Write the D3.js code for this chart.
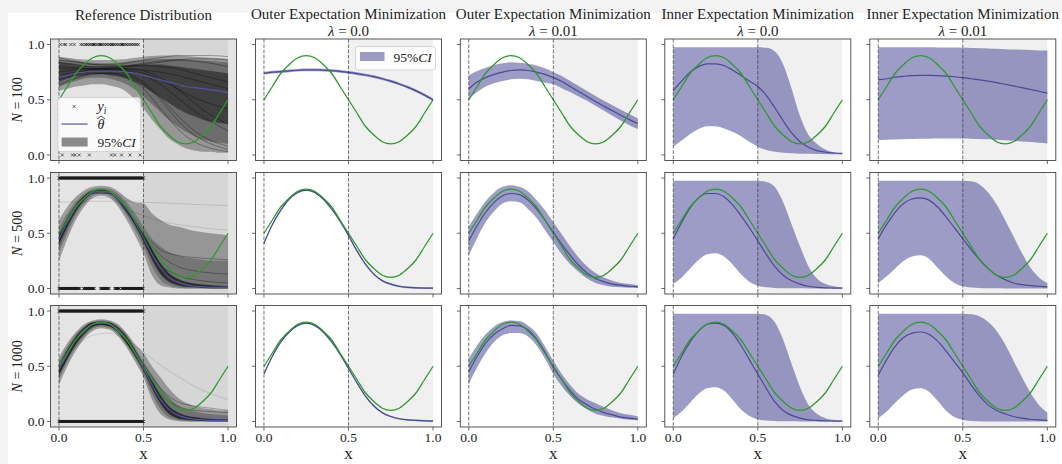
<!DOCTYPE html>
<html><head><meta charset="utf-8">
<script src="https://cdn.jsdelivr.net/npm/d3@7"></script>
<style>
html,body{margin:0;padding:0;background:#f3f3f3;}
svg{display:block;}
text{font-family:"Liberation Serif","Times New Roman",serif;fill:#222;}
</style></head><body>
<svg id="chart" width="1062" height="464"></svg>
<script>
// ---------------- DATA ----------------
const xGrid = [0,0.05,0.1,0.15,0.2,0.25,0.3,0.35,0.4,0.45,0.5,0.55,0.6,0.65,0.7,0.75,0.8,0.85,0.9,0.95,1];
const xCoarse = [0,0.1,0.2,0.3,0.4,0.5,0.6,0.7,0.8,0.9,1];
const sampleSizes = [100, 500, 1000];
const colTitles = [["Reference Distribution"],
  ["Outer Expectation Minimization","λ = 0.0"],
  ["Outer Expectation Minimization","λ = 0.01"],
  ["Inner Expectation Minimization","λ = 0.0"],
  ["Inner Expectation Minimization","λ = 0.01"]];
const xTicks = [0, 0.5, 1.0];
const yTicks = [0, 0.5, 1.0];
const xTickLabels = ["0.0","0.5","1.0"];
const yTickLabels = ["0.0","0.5","1.0"];

// true success probability (green)
const trueTheta = [0.5,0.62,0.74,0.82,0.88,0.9,0.88,0.82,0.74,0.62,0.5,0.38,0.26,0.18,0.12,0.1,0.12,0.18,0.26,0.38,0.5];

// observed y_i positions (x of the ones / zeros); dense rows given as spans
const obsOnes100 = [0.01,0.03,0.04,0.07,0.09,0.13,0.14,0.155,0.16,0.17,0.18,0.19,0.2,0.205,0.21,0.22,0.23,0.24,0.245,0.25,0.26,0.27,0.28,0.29,0.3,0.31,0.315,0.32,0.33,0.34,0.35,0.36,0.37,0.375,0.38,0.39,0.4,0.41,0.42,0.43,0.44,0.45,0.46,0.47];
const obsZeros100 = [0.02,0.08,0.095,0.12,0.18,0.31,0.33,0.37,0.42,0.48];
const obsOnesSpans = {500:[[0,0.5]], 1000:[[0,0.5]]};
const obsZerosSpans = {500:[[0,0.125],[0.145,0.21],[0.245,0.3],[0.33,0.36],[0.37,0.5]], 1000:[[0,0.5]]};

// reference distribution: envelopes of the sampled curves
const refLightLo = {
 100:[0.58,0.6,0.62,0.63,0.64,0.64,0.63,0.61,0.57,0.5,0.42,0.32,0.23,0.15,0.1,0.06,0.04,0.03,0.03,0.02,0.02],
 500:[0.25,0.45,0.62,0.74,0.82,0.84,0.82,0.74,0.62,0.48,0.32,0.12,0.03,0.01,0,0,0,0,0,0,0],
 1000:[0.33,0.5,0.64,0.75,0.82,0.845,0.83,0.77,0.67,0.54,0.4,0.2,0.07,0.02,0.005,0,0,0,0,0,0]};
const refLightHi = {
 100:[0.89,0.88,0.87,0.865,0.86,0.86,0.86,0.865,0.87,0.88,0.89,0.895,0.9,0.9,0.9,0.895,0.89,0.885,0.88,0.875,0.87],
 500:[0.62,0.74,0.83,0.89,0.92,0.93,0.92,0.88,0.82,0.78,0.77,0.68,0.62,0.58,0.56,0.54,0.52,0.51,0.5,0.49,0.48],
 1000:[0.58,0.71,0.81,0.88,0.915,0.925,0.915,0.88,0.8,0.7,0.62,0.5,0.4,0.3,0.22,0.17,0.14,0.12,0.11,0.1,0.1]};
const refMidLo = {
 100:[0.62,0.65,0.67,0.69,0.7,0.7,0.69,0.67,0.64,0.59,0.53,0.46,0.39,0.32,0.26,0.21,0.17,0.14,0.12,0.11,0.1],
 500:[0.33,0.5,0.66,0.77,0.84,0.86,0.84,0.77,0.66,0.53,0.38,0.2,0.08,0.03,0.01,0,0,0,0,0,0],
 1000:[0.38,0.54,0.67,0.77,0.84,0.86,0.845,0.79,0.69,0.57,0.43,0.25,0.11,0.04,0.015,0.005,0,0,0,0,0]};
const refMidHi = {
 100:[0.87,0.86,0.85,0.84,0.835,0.83,0.83,0.835,0.845,0.855,0.86,0.865,0.87,0.87,0.87,0.865,0.86,0.855,0.85,0.845,0.84],
 500:[0.55,0.68,0.79,0.86,0.9,0.91,0.9,0.86,0.78,0.68,0.56,0.45,0.38,0.33,0.3,0.28,0.27,0.26,0.25,0.25,0.25],
 1000:[0.54,0.68,0.79,0.865,0.905,0.915,0.905,0.865,0.79,0.67,0.54,0.42,0.31,0.22,0.15,0.11,0.09,0.075,0.065,0.06,0.055]};
const refCoreLo = {
 100:[0.66,0.69,0.71,0.72,0.73,0.73,0.72,0.71,0.69,0.66,0.62,0.57,0.52,0.47,0.42,0.38,0.35,0.32,0.3,0.29,0.28],
 500:[0.4,0.56,0.7,0.8,0.86,0.875,0.86,0.8,0.7,0.57,0.42,0.26,0.13,0.06,0.03,0.015,0.01,0.005,0,0,0],
 1000:[0.42,0.57,0.7,0.79,0.855,0.875,0.86,0.81,0.71,0.59,0.46,0.3,0.16,0.07,0.03,0.015,0.008,0.005,0,0,0]};
const refCoreHi = {
 100:[0.84,0.83,0.82,0.81,0.8,0.8,0.8,0.8,0.81,0.82,0.82,0.82,0.82,0.81,0.8,0.79,0.78,0.77,0.76,0.75,0.74],
 500:[0.5,0.64,0.76,0.84,0.885,0.895,0.88,0.83,0.74,0.63,0.5,0.36,0.23,0.14,0.09,0.06,0.045,0.035,0.03,0.025,0.02],
 1000:[0.51,0.65,0.77,0.85,0.895,0.905,0.895,0.85,0.77,0.65,0.51,0.37,0.24,0.14,0.085,0.055,0.04,0.03,0.025,0.02,0.02]};
const refMean = {
 100:[0.7,0.72,0.74,0.75,0.76,0.76,0.76,0.76,0.75,0.74,0.72,0.7,0.68,0.66,0.64,0.62,0.61,0.6,0.59,0.58,0.565],
 500:[0.45,0.6,0.73,0.82,0.87,0.88,0.87,0.81,0.72,0.6,0.46,0.31,0.19,0.1,0.06,0.035,0.02,0.015,0.01,0.01,0.01],
 1000:[0.47,0.61,0.74,0.83,0.88,0.89,0.88,0.83,0.74,0.62,0.48,0.33,0.2,0.11,0.06,0.035,0.02,0.015,0.01,0.01,0.01]};
// a few individual sampled curves (on xCoarse)
const refSamples = {
 100:[[0.86,0.84,0.82,0.82,0.83,0.86,0.88,0.9,0.9,0.9,0.89],
      [0.8,0.79,0.78,0.78,0.77,0.74,0.68,0.6,0.52,0.46,0.42],
      [0.72,0.75,0.77,0.77,0.74,0.66,0.52,0.36,0.22,0.13,0.08],
      [0.68,0.73,0.76,0.77,0.76,0.72,0.64,0.52,0.4,0.3,0.22],
      [0.84,0.82,0.8,0.8,0.8,0.81,0.8,0.78,0.74,0.7,0.66],
      [0.75,0.77,0.78,0.78,0.78,0.77,0.75,0.72,0.68,0.64,0.6],
      [0.64,0.7,0.74,0.74,0.7,0.6,0.42,0.24,0.12,0.06,0.03],
      [0.78,0.78,0.78,0.79,0.8,0.82,0.84,0.86,0.87,0.87,0.86],
      [0.7,0.74,0.77,0.78,0.78,0.76,0.7,0.6,0.47,0.36,0.28],
      [0.88,0.85,0.82,0.81,0.81,0.83,0.85,0.86,0.85,0.83,0.8],
      [0.62,0.69,0.73,0.74,0.72,0.64,0.5,0.32,0.18,0.1,0.05]],
 500:[[0.42,0.72,0.87,0.86,0.7,0.5,0.35,0.3,0.28,0.27,0.26],
      [0.45,0.73,0.88,0.87,0.7,0.47,0.22,0.12,0.08,0.06,0.05],
      [0.38,0.7,0.86,0.86,0.69,0.48,0.3,0.2,0.16,0.14,0.13]],
 1000:[[0.45,0.73,0.89,0.87,0.72,0.5,0.25,0.14,0.1,0.09,0.08],
       [0.42,0.71,0.88,0.87,0.71,0.52,0.3,0.18,0.14,0.12,0.1]]};
const refFaint = {
 100:[],
 500:[[0.78,0.785,0.79,0.79,0.79,0.78,0.775,0.77,0.76,0.755,0.75],
      [0.6,0.72,0.82,0.82,0.72,0.66,0.61,0.58,0.56,0.54,0.53]],
 1000:[[0.5,0.68,0.78,0.8,0.74,0.63,0.51,0.41,0.32,0.25,0.2]]};

// Outer expectation minimization, lambda = 0.0
const outer0Mean = {
 100:[0.74,0.75,0.755,0.762,0.767,0.77,0.77,0.768,0.764,0.757,0.748,0.737,0.724,0.709,0.69,0.668,0.643,0.614,0.58,0.542,0.5],
 500:[0.41,0.58,0.71,0.81,0.87,0.89,0.87,0.81,0.72,0.61,0.48,0.34,0.22,0.13,0.07,0.04,0.02,0.01,0.005,0.004,0.003],
 1000:[0.43,0.59,0.72,0.81,0.87,0.89,0.87,0.81,0.72,0.61,0.48,0.35,0.23,0.14,0.08,0.045,0.025,0.015,0.01,0.006,0.004]};
const outer0HalfWidth = {100:0.012, 500:0.008, 1000:0.007};

// Outer expectation minimization, lambda = 0.01
const outer01Mean = {
 100:[0.6,0.66,0.7,0.73,0.75,0.765,0.77,0.765,0.75,0.73,0.7,0.665,0.62,0.575,0.53,0.485,0.44,0.4,0.36,0.32,0.285],
 500:[0.43,0.57,0.69,0.78,0.84,0.86,0.85,0.8,0.72,0.62,0.51,0.4,0.3,0.21,0.14,0.09,0.06,0.04,0.03,0.02,0.015],
 1000:[0.45,0.59,0.71,0.79,0.84,0.87,0.865,0.83,0.75,0.63,0.49,0.38,0.28,0.2,0.15,0.11,0.08,0.06,0.04,0.03,0.02]};
const outer01Upper = {
 100:[0.72,0.76,0.79,0.815,0.83,0.84,0.835,0.825,0.81,0.785,0.75,0.715,0.67,0.625,0.58,0.535,0.49,0.45,0.41,0.37,0.33],
 500:[0.56,0.68,0.79,0.87,0.92,0.935,0.92,0.88,0.8,0.71,0.6,0.49,0.38,0.28,0.2,0.14,0.1,0.07,0.05,0.04,0.03],
 1000:[0.57,0.69,0.79,0.86,0.9,0.915,0.91,0.87,0.8,0.68,0.55,0.43,0.33,0.25,0.2,0.165,0.13,0.1,0.075,0.06,0.045]};
const outer01Lower = {
 100:[0.51,0.57,0.62,0.65,0.67,0.685,0.69,0.685,0.67,0.655,0.64,0.605,0.57,0.53,0.49,0.445,0.4,0.355,0.31,0.27,0.235],
 500:[0.3,0.46,0.6,0.7,0.77,0.79,0.78,0.72,0.64,0.53,0.42,0.31,0.22,0.15,0.09,0.05,0.03,0.015,0.01,0.007,0.005],
 1000:[0.34,0.49,0.62,0.72,0.78,0.8,0.8,0.77,0.69,0.57,0.43,0.32,0.23,0.16,0.11,0.07,0.05,0.035,0.025,0.015,0.01]};

// Inner expectation minimization, lambda = 0.0
const inner0Mean = {
 100:[0.58,0.67,0.75,0.8,0.825,0.825,0.81,0.77,0.72,0.67,0.62,0.54,0.43,0.31,0.2,0.12,0.07,0.04,0.025,0.018,0.015],
 500:[0.45,0.6,0.73,0.82,0.86,0.86,0.83,0.76,0.66,0.55,0.43,0.31,0.2,0.12,0.07,0.04,0.02,0.01,0.005,0.004,0.003],
 1000:[0.43,0.59,0.72,0.82,0.88,0.89,0.87,0.8,0.69,0.56,0.43,0.3,0.18,0.1,0.055,0.03,0.015,0.01,0.005,0.004,0.003]};
const inner0Upper = {
 100:[0.975,0.975,0.975,0.975,0.975,0.975,0.975,0.975,0.975,0.975,0.975,0.97,0.94,0.82,0.6,0.35,0.18,0.1,0.05,0.025,0.015],
 500:[0.975,0.975,0.975,0.975,0.975,0.975,0.975,0.975,0.975,0.975,0.975,0.965,0.92,0.78,0.58,0.38,0.2,0.09,0.04,0.02,0.01],
 1000:[0.975,0.975,0.975,0.975,0.975,0.975,0.975,0.975,0.975,0.975,0.975,0.965,0.9,0.74,0.52,0.31,0.15,0.07,0.03,0.015,0.01]};
const inner0Lower = {
 100:[0.075,0.13,0.19,0.235,0.26,0.26,0.24,0.21,0.17,0.12,0.075,0.045,0.03,0.02,0.015,0.012,0.01,0.008,0.007,0.006,0.005],
 500:[0.04,0.1,0.18,0.26,0.31,0.32,0.29,0.22,0.13,0.06,0.025,0.01,0.005,0.003,0.002,0.001,0,0,0,0,0],
 1000:[0.03,0.09,0.17,0.25,0.3,0.31,0.28,0.2,0.11,0.05,0.02,0.008,0.004,0.002,0.001,0,0,0,0,0,0]};

// Inner expectation minimization, lambda = 0.01
const inner01Mean = {
 100:[0.68,0.69,0.705,0.713,0.718,0.72,0.72,0.718,0.714,0.708,0.7,0.69,0.68,0.668,0.655,0.64,0.625,0.61,0.593,0.577,0.56],
 500:[0.45,0.58,0.69,0.77,0.81,0.82,0.8,0.74,0.65,0.55,0.45,0.35,0.26,0.18,0.12,0.08,0.05,0.035,0.025,0.02,0.015],
 1000:[0.42,0.56,0.68,0.76,0.8,0.81,0.79,0.73,0.64,0.54,0.44,0.33,0.23,0.15,0.1,0.07,0.045,0.03,0.02,0.015,0.01]};
const inner01Upper = {
 100:[0.975,0.975,0.975,0.975,0.975,0.975,0.975,0.974,0.973,0.972,0.97,0.968,0.966,0.964,0.961,0.958,0.955,0.952,0.95,0.947,0.945],
 500:[0.975,0.975,0.975,0.975,0.975,0.975,0.975,0.975,0.975,0.975,0.975,0.97,0.94,0.87,0.76,0.62,0.47,0.32,0.19,0.1,0.05],
 1000:[0.975,0.975,0.975,0.975,0.975,0.975,0.975,0.975,0.975,0.975,0.975,0.97,0.95,0.9,0.82,0.7,0.55,0.4,0.26,0.15,0.08]};
const inner01Lower = {
 100:[0.135,0.138,0.14,0.142,0.144,0.146,0.148,0.149,0.15,0.15,0.15,0.148,0.145,0.142,0.138,0.133,0.128,0.122,0.117,0.111,0.105],
 500:[0.05,0.11,0.18,0.25,0.29,0.3,0.27,0.19,0.11,0.05,0.02,0.008,0.004,0.002,0.001,0,0,0,0,0,0],
 1000:[0.03,0.09,0.17,0.24,0.29,0.3,0.27,0.19,0.1,0.04,0.015,0.005,0.002,0,0,0,0,0,0,0,0]};

// ---------------- LAYOUT ----------------
const panelLeft = [50.5, 255.5, 460.3, 664.8, 869.8];
const panelTop = [39, 172.5, 305.5];
const PW = 186, PH = 121.5;
const GREEN = "#2e9a2e", BLUE = "#4a4a94", BANDC = "#3a3a8f";
// reference-panel shading opacities per sample size [light, mid, core, samples]
const refShade = {100:[0.5,0.35,0.42,0.32], 500:[0.5,0.28,0.6,0.3], 1000:[0.5,0.3,0.6,0.3]};

const svg = d3.select("#chart");
svg.append("rect").attr("x",8).attr("y",13).attr("width",1054).attr("height",451).attr("fill","#fff");
const defs = svg.append("defs");

function lineGen(xs, x, y){
  return d3.line().x((d,i)=>x(xs[i])).y(d=>y(d)).curve(d3.curveMonotoneX);
}
function areaGen(xs, x, y, lo, hi){
  return d3.area().x((d,i)=>x(xs[i])).y0((d,i)=>y(lo[i])).y1((d,i)=>y(hi[i])).curve(d3.curveMonotoneX);
}
function drawBand(g, xs, x, y, lo, hi, fill, op){
  g.append("path").datum(lo).attr("d", areaGen(xs,x,y,lo,hi)).attr("fill",fill).attr("fill-opacity",op);
}
function drawLine(g, xs, x, y, vals, color, w, op){
  g.append("path").datum(vals).attr("d", lineGen(xs,x,y)).attr("fill","none")
   .attr("stroke",color).attr("stroke-width",w).attr("stroke-opacity",op===undefined?1:op);
}
const crossPath = "M-1.5,-1.5L1.5,1.5M-1.5,1.5L1.5,-1.5";

sampleSizes.forEach((N, r) => {
  for (let c = 0; c < 5; c++) {
    const left = panelLeft[c], top = panelTop[r];
    const x = d3.scaleLinear().domain([-0.05,1.05]).range([0,PW]);
    const y = d3.scaleLinear().domain([-0.05,1.05]).range([PH,0]);
    const g = svg.append("g").attr("transform",`translate(${left},${top})`);
    const cid = `clip${r}${c}`;
    defs.append("clipPath").attr("id",cid).append("rect").attr("width",PW).attr("height",PH);
    const pg = g.append("g").attr("clip-path",`url(#${cid})`);

    if (c === 0) {
      const sh = refShade[N];
      pg.append("rect").attr("width",PW).attr("height",PH).attr("fill","#e4e4e4");
      pg.append("rect").attr("x",x(0.5)).attr("width",x(1)-x(0.5)).attr("height",PH).attr("fill","#d6d6d6");
      drawBand(pg, xGrid, x, y, refLightLo[N], refLightHi[N], "#555", sh[0]);
      drawBand(pg, xGrid, x, y, refMidLo[N], refMidHi[N], "#222", sh[1]);
      drawBand(pg, xGrid, x, y, refCoreLo[N], refCoreHi[N], "#000", sh[2]);
      refFaint[N].forEach(s => drawLine(pg, xCoarse, x, y, s, "#000", 1, 0.12));
      refSamples[N].forEach(s => drawLine(pg, xCoarse, x, y, s, "#000", 1, sh[3]));
      const mk = pg.append("g").attr("stroke","#000").attr("stroke-width",0.8).attr("stroke-opacity",0.7);
      let ones = [], zeros = [];
      if (N === 100) { ones = obsOnes100; zeros = obsZeros100; }
      else {
        const fill = spans => { const out=[]; spans.forEach(([a,b])=>{ for(let v=a; v<=b+1e-9; v+=0.004) out.push(v); }); return out; };
        ones = fill(obsOnesSpans[N]); zeros = fill(obsZerosSpans[N]);
      }
      ones.forEach(v => mk.append("path").attr("d",crossPath).attr("transform",`translate(${x(v)},${y(1)})`));
      zeros.forEach(v => mk.append("path").attr("d",crossPath).attr("transform",`translate(${x(v)},${y(0)})`));
      drawLine(pg, xGrid, x, y, refMean[N], "#5353a3", 1.2);
      drawLine(pg, xGrid, x, y, trueTheta, GREEN, 1.3);
    } else {
      pg.append("rect").attr("width",PW).attr("height",PH).attr("fill","#fff");
      pg.append("rect").attr("x",x(0.5)).attr("width",x(1)-x(0.5)).attr("height",PH).attr("fill","#f0f0f0");
      let mean, lo, hi;
      if (c === 1) { mean = outer0Mean[N]; const h = outer0HalfWidth[N]; lo = mean.map(v=>v-h); hi = mean.map(v=>v+h); }
      if (c === 2) { mean = outer01Mean[N]; lo = outer01Lower[N]; hi = outer01Upper[N]; }
      if (c === 3) { mean = inner0Mean[N]; lo = inner0Lower[N]; hi = inner0Upper[N]; }
      if (c === 4) { mean = inner01Mean[N]; lo = inner01Lower[N]; hi = inner01Upper[N]; }
      drawBand(pg, xGrid, x, y, lo, hi, BANDC, 0.5);
      drawLine(pg, xGrid, x, y, mean, BLUE, 1.2);
      drawLine(pg, xGrid, x, y, trueTheta, GREEN, 1.3);
    }
    [0, 0.5].forEach(v => pg.append("line").attr("x1",x(v)).attr("x2",x(v)).attr("y1",0).attr("y2",PH)
      .attr("stroke","#333").attr("stroke-width",0.9).attr("stroke-dasharray","3.7,1.6").attr("stroke-opacity",0.75));

    g.append("rect").attr("width",PW).attr("height",PH).attr("fill","none").attr("stroke","#444").attr("stroke-width",0.9);
    yTicks.forEach((t,i) => {
      g.append("line").attr("x1",-3.5).attr("x2",0).attr("y1",y(t)).attr("y2",y(t)).attr("stroke","#444").attr("stroke-width",0.8);
      if (c === 0) g.append("text").attr("x",-6).attr("y",y(t)).attr("dy","0.34em").attr("text-anchor","end")
        .attr("font-size",13.5).text(yTickLabels[i]);
    });
    xTicks.forEach((t,i) => {
      g.append("line").attr("x1",x(t)).attr("x2",x(t)).attr("y1",PH).attr("y2",PH+3.5).attr("stroke","#444").attr("stroke-width",0.8);
      if (r === 2) g.append("text").attr("x",x(t)).attr("y",PH+15).attr("text-anchor","middle")
        .attr("font-size",13.5).text(xTickLabels[i]);
    });
    if (r === 2) g.append("text").attr("x",PW/2).attr("y",PH+32).attr("text-anchor","middle").attr("font-size",17).text("x");
    if (c === 0) {
      const t = g.append("text").attr("transform",`translate(-29,${PH/2}) rotate(-90)`).attr("text-anchor","middle").attr("font-size",14);
      t.append("tspan").attr("font-style","italic").text("N");
      t.append("tspan").text(" = " + N);
    }
    if (r === 0) {
      const ttl = colTitles[c];
      if (ttl.length === 1) {
        g.append("text").attr("x",PW/2).attr("y",-19).attr("text-anchor","middle").attr("font-size",15).text(ttl[0]);
      } else {
        g.append("text").attr("x",PW/2).attr("y",-20).attr("text-anchor","middle").attr("font-size",15).text(ttl[0]);
        const parts = ttl[1].split(" = ");
        const t2 = g.append("text").attr("x",PW/2).attr("y",-3).attr("text-anchor","middle").attr("font-size",15);
        t2.append("tspan").attr("font-style","italic").text(parts[0]);
        t2.append("tspan").text(" = " + parts[1]);
      }
    }
    if (r === 0 && c === 0) {
      const lg = g.append("g").attr("transform",`translate(${x(-0.008)},${y(0.52)})`);
      lg.append("rect").attr("width",83).attr("height",54).attr("rx",3).attr("fill","#fff").attr("fill-opacity",0.8).attr("stroke","#ccc").attr("stroke-width",0.8);
      lg.append("path").attr("d",crossPath).attr("transform","translate(16.5,9)").attr("stroke","#000").attr("stroke-width",0.8).attr("stroke-opacity",0.7);
      const ty = lg.append("text").attr("x",40).attr("y",13).attr("font-size",14);
      ty.append("tspan").attr("font-style","italic").text("y");
      ty.append("tspan").attr("font-style","italic").attr("font-size",9.5).attr("dy",3).text("i");
      lg.append("line").attr("x1",4).attr("x2",30).attr("y1",26.5).attr("y2",26.5).attr("stroke","#5353a3").attr("stroke-width",1.2);
      lg.append("text").attr("x",40).attr("y",31).attr("font-size",14).attr("font-style","italic").text("θ");
      lg.append("path").attr("d","M39.5,21.5 L43.5,18.5 L47.5,21.5").attr("fill","none").attr("stroke","#222").attr("stroke-width",0.8);
      lg.append("rect").attr("x",4).attr("y",40).attr("width",26).attr("height",9).attr("fill","#8a8a8a");
      const tc = lg.append("text").attr("x",40).attr("y",49).attr("font-size",13.5);
      tc.append("tspan").text("95%");
      tc.append("tspan").attr("font-style","italic").text("CI");
    }
    if (r === 0 && c === 1) {
      const lg = g.append("g").attr("transform",`translate(${PW-86},7.5)`);
      lg.append("rect").attr("width",80).attr("height",23.5).attr("rx",3).attr("fill","#fff").attr("fill-opacity",0.8).attr("stroke","#ccc").attr("stroke-width",0.8);
      lg.append("rect").attr("x",4.5).attr("y",5.5).attr("width",24.5).attr("height",9).attr("fill",BANDC).attr("fill-opacity",0.5);
      const tc = lg.append("text").attr("x",38).attr("y",15.5).attr("font-size",13.5);
      tc.append("tspan").text("95%");
      tc.append("tspan").attr("font-style","italic").text("CI");
    }
  }
});
</script>
</body></html>
